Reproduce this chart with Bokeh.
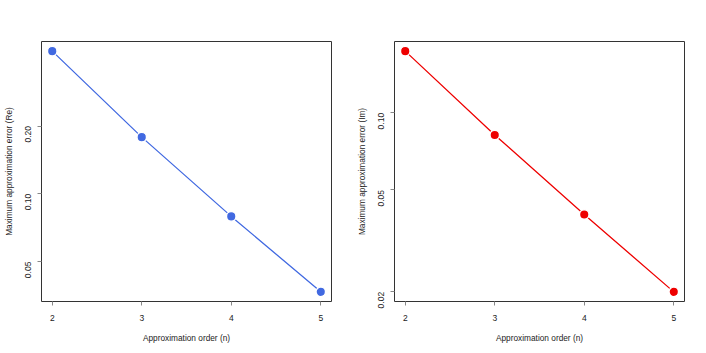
import math
from bokeh.plotting import figure
from bokeh.layouts import row
from bokeh.models import FixedTicker, PrintfTickFormatter, Range1d
from bokeh.embed import file_html
from bokeh.resources import INLINE

orders = [2, 3, 4, 5]
err_re = [0.430, 0.1785, 0.0794, 0.0367]
err_im = [0.1742, 0.0820, 0.0401, 0.0200]
re_ticks = [0.05, 0.10, 0.20]
im_ticks = [0.02, 0.05, 0.10]
x_ticks = [2, 3, 4, 5]

FONT = "Liberation Sans"


def log_range(vals):
    lo, hi = math.log10(min(vals)), math.log10(max(vals))
    pad = 0.04 * (hi - lo)
    return Range1d(10 ** (lo - pad), 10 ** (hi + pad))


def make(vals, ticks, color, ylabel, left, right):
    p = figure(width=left + 290 + right, height=345, y_axis_type="log",
               output_backend="svg", toolbar_location=None,
               x_range=Range1d(1.88, 5.12), y_range=log_range(vals),
               min_border_left=left, min_border_right=right,
               min_border_top=41, min_border_bottom=44)
    p.grid.visible = False
    p.outline_line_color = "#333333"
    p.outline_line_width = 1
    p.background_fill_color = "white"
    p.border_fill_color = "white"

    p.line(orders, vals, line_color=color, line_width=1.3)
    p.scatter(orders, vals, size=9.5, fill_color=color, line_color="white",
              line_width=1.4)

    xa = p.xaxis[0]
    xa.ticker = FixedTicker(ticks=x_ticks)
    xa.axis_label = "Approximation order (n)"
    xa.major_label_standoff = 9
    xa.axis_label_standoff = 9

    ya = p.yaxis[0]
    ya.ticker = FixedTicker(ticks=ticks)
    ya.formatter = PrintfTickFormatter(format="%.2f")
    ya.axis_label = ylabel
    ya.major_label_orientation = math.pi / 2
    ya.major_label_standoff = 9
    ya.axis_label_standoff = 6

    for ax in (xa, ya):
        ax.axis_line_color = None
        ax.major_tick_line_color = "#888888"
        ax.major_tick_in = 0
        ax.major_tick_out = 4
        ax.minor_tick_line_color = None
        ax.major_label_text_font = FONT
        ax.major_label_text_font_size = "8.5px"
        ax.major_label_text_color = "#222222"
        ax.axis_label_text_font = FONT
        ax.axis_label_text_font_size = "8.3px"
        ax.axis_label_text_font_style = "normal"
        ax.axis_label_text_color = "#222222"
    return p


p1 = make(err_re, re_ticks, "#4169E1", "Maximum approximation error (Re)", 41, 22)
p2 = make(err_im, im_ticks, "#EE0000", "Maximum approximation error (Im)", 41, 13)

layout = row(p1, p2)
open("out.html", "w").write(file_html(layout, INLINE))
